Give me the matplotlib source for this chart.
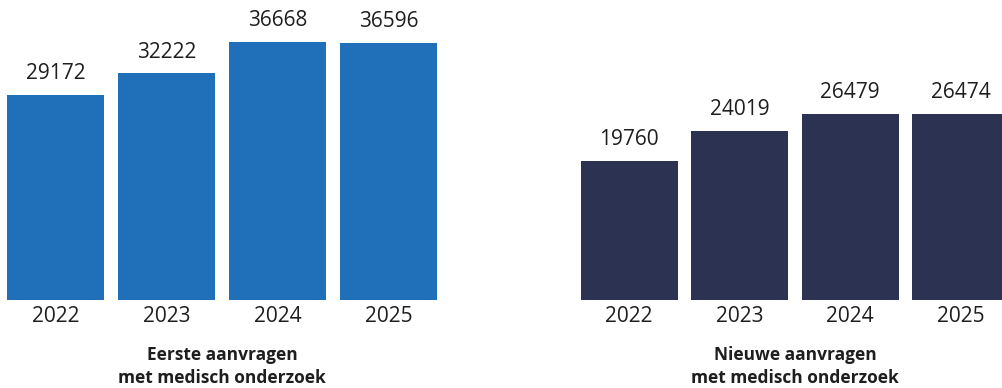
import matplotlib.pyplot as plt

plt.rcParams['font.family'] = ['Open Sans', 'DejaVu Sans']

years = ['2022', '2023', '2024', '2025']
eerste = [29172, 32222, 36668, 36596]
nieuwe = [19760, 24019, 26479, 26474]

titles = ['Eerste aanvragen\nmet medisch onderzoek',
          'Nieuwe aanvragen\nmet medisch onderzoek']
colors = ['#1f70b8', '#2b3252']
text_color = '#1e1e1e'

W, H = 1002, 388
fig = plt.figure(figsize=(W / 100, H / 100), dpi=100)

# axes placed in pixels: (left, width)
panels = [(0, 444), (574, 442)]
base_px = 300
ymax = base_px / 0.00703

for (left, width), values, title, color in zip(panels, [eerste, nieuwe], titles, colors):
    ax = fig.add_axes([left / W, (H - base_px) / H, width / W, base_px / H])
    x = range(len(years))
    ax.bar(x, values, width=0.875, color=color)
    ax.set_xlim(-0.5, len(years) - 0.5)
    ax.set_ylim(0, ymax)
    ax.axis('off')

    for i, v in enumerate(values):
        ax.annotate(str(v), xy=(i, v), xytext=(0, 11.5), textcoords='offset points',
                    ha='center', va='baseline', fontsize=15, color=text_color)
        ax.annotate(years[i], xy=(i, 0), xytext=(0, -15.8), textcoords='offset points',
                    ha='center', va='baseline', fontsize=15, color=text_color,
                    annotation_clip=False)

    line1, line2 = title.split('\n')
    ax.annotate(line1, xy=(0.5, 0), xycoords='axes fraction', xytext=(0, -43.2),
                textcoords='offset points', ha='center', va='baseline',
                fontsize=12.5, fontweight='bold', color=text_color, annotation_clip=False)
    ax.annotate(line2, xy=(0.5, 0), xycoords='axes fraction', xytext=(0, -59.8),
                textcoords='offset points', ha='center', va='baseline',
                fontsize=12.5, fontweight='bold', color=text_color, annotation_clip=False)

fig.savefig('out.png', dpi=100, facecolor='white')
